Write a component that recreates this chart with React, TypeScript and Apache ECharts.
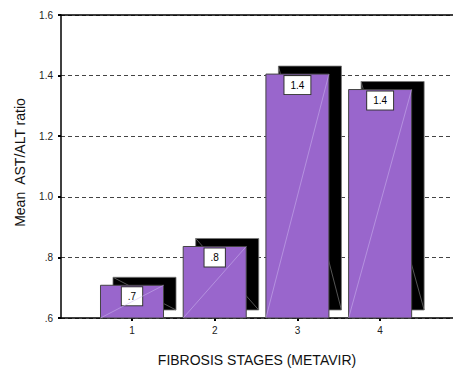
import React, { useEffect, useRef } from "react";
import * as echarts from "echarts";

const stages = ["1", "2", "3", "4"];
const stagePositions = [1, 2, 3, 4];
const meanRatio = [0.708, 0.836, 1.405, 1.354];
const yTicks = [0.6, 0.8, 1.0, 1.2, 1.4, 1.6];

const Y_MIN = 0.6;
const Y_MAX = 1.6;
const X_MIN = 0.1415;
const X_MAX = 4.881;
const FONT = "'Liberation Sans', Arial, sans-serif";

const fmt = (v: number) => {
  const s = v.toFixed(1);
  return v < 1 ? s.replace(/^0/, "") : s;
};

export default function App() {
  const ref = useRef<HTMLDivElement>(null);
  useEffect(() => {
    if (!ref.current) return;
    const chart = echarts.init(ref.current, undefined, { renderer: "svg" });
    const data = meanRatio.map((v, i) => [stagePositions[i], v]);
    chart.setOption({
      animation: false,
      backgroundColor: "#ffffff",
      grid: { left: 61, right: 0, top: 15, bottom: 53 },
      xAxis: [
        {
          type: "value",
          min: X_MIN,
          max: X_MAX,
          name: "FIBROSIS STAGES (METAVIR)",
          nameLocation: "middle",
          nameGap: 35,
          nameTextStyle: { fontFamily: FONT, fontSize: 14, color: "#111" },
          axisLine: { show: true, onZero: false, lineStyle: { color: "#000", width: 1.5 } },
          axisTick: {
            show: true,
            customValues: stagePositions,
            length: 3,
            lineStyle: { color: "#000", width: 2 },
          },
          axisLabel: {
            show: true,
            customValues: stagePositions,
            formatter: (v: number) => stages[stagePositions.indexOf(Math.round(v))] ?? "",
            fontFamily: FONT,
            fontSize: 10,
            color: "#222",
            margin: 7,
          },
          splitLine: { show: false },
        },
        {
          type: "value",
          position: "top",
          min: X_MIN,
          max: X_MAX,
          axisLine: { show: true, onZero: false, lineStyle: { color: "#000", width: 1.5 } },
          axisTick: { show: false },
          axisLabel: { show: false },
          splitLine: { show: false },
        },
      ],
      yAxis: {
        type: "value",
        min: Y_MIN,
        max: Y_MAX,
        interval: 0.2,
        name: "Mean  AST/ALT ratio",
        nameLocation: "middle",
        nameGap: 34,
        nameTextStyle: { fontFamily: FONT, fontSize: 14, color: "#111", padding: [0, 0, 0, 8] },
        axisLine: { show: true, lineStyle: { color: "#000", width: 1.5 } },
        axisTick: { show: true, length: 3, lineStyle: { color: "#000", width: 2 } },
        axisLabel: {
          fontFamily: FONT,
          fontSize: 10,
          color: "#222",
          margin: 8,
          customValues: yTicks,
          formatter: (v: number) => fmt(v),
        },
        splitLine: { show: true, lineStyle: { color: "#444", type: [4, 3], width: 1 } },
      },
      series: [
        {
          type: "custom",
          xAxisIndex: 0,
          yAxisIndex: 0,
          data,
          renderItem: (_params: any, api: any) => {
            const x = api.value(0) as number;
            const v = api.value(1) as number;
            const top = api.coord([x, v]);
            const bot = api.coord([x, Y_MIN]);
            const w = api.size([0.762, 0])[0];
            const dx = 12.5;
            const dy = 8;
            const left = top[0] - w / 2;
            const h = bot[1] - top[1];
            return {
              type: "group",
              children: [
                {
                  type: "rect",
                  shape: { x: left + dx, y: top[1] - dy, width: w, height: h },
                  style: { fill: "#000", stroke: "#777", lineWidth: 0.8 },
                },
                {
                  type: "line",
                  shape: { x1: left + dx, y1: top[1] - dy, x2: left + dx + w, y2: bot[1] - dy },
                  style: { stroke: "#6a6a6a", lineWidth: 0.8 },
                },
                {
                  type: "rect",
                  shape: { x: left, y: top[1], width: w, height: h },
                  style: { fill: "#9966cc", stroke: "#444", lineWidth: 1 },
                },
                {
                  type: "text",
                  x: top[0],
                  y: top[1] + 2,
                  style: {
                    text: fmt(v),
                    fontFamily: FONT,
                    fontSize: 10,
                    fill: "#000",
                    align: "center",
                    verticalAlign: "top",
                    backgroundColor: "#fff",
                    borderColor: "#333",
                    borderWidth: 1,
                    padding: [3, 6, 3, 6],
                    lineHeight: 12,
                  },
                },
                {
                  type: "line",
                  shape: { x1: left, y1: bot[1], x2: left + w, y2: top[1] },
                  style: { stroke: "rgba(205,185,240,0.75)", lineWidth: 0.7 },
                },
              ],
            };
          },
        },
      ],
    });
    return () => chart.dispose();
  }, []);
  return (
    <div
      ref={ref}
      style={{ position: "fixed", left: 0, top: 0, width: 453, height: 372, background: "#fff" }}
    />
  );
}
